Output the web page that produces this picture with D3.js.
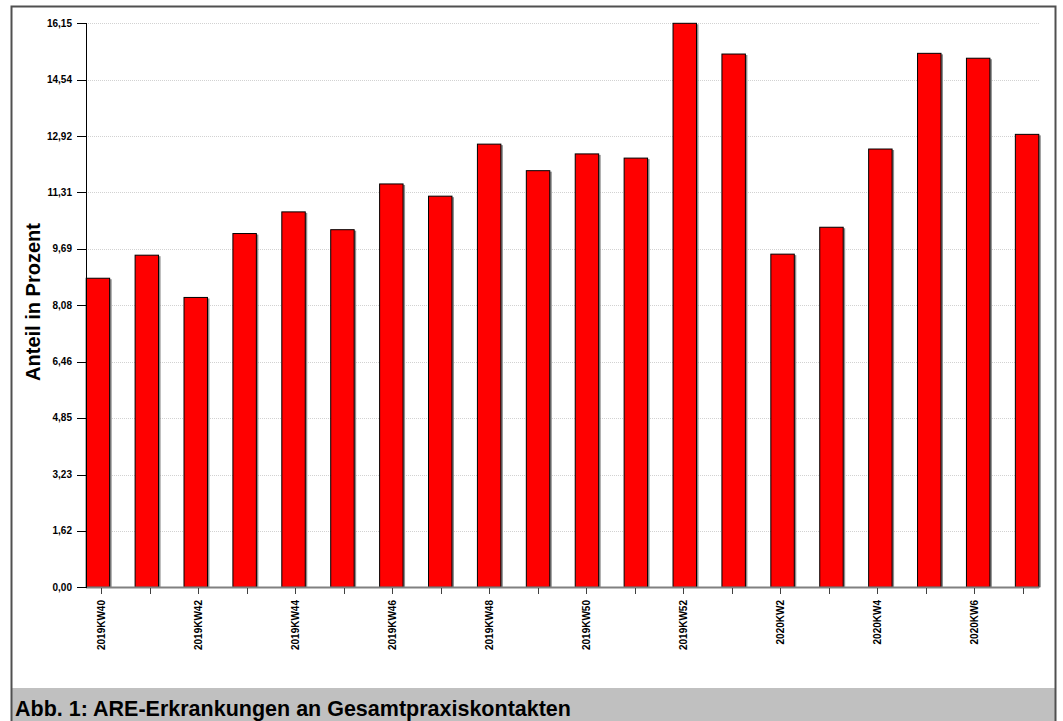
<html>
  <head>
    <style>
      body { margin: 0; background: #fff; }
      text { font-family: "Liberation Sans", Arial, sans-serif; font-weight: bold; fill: #000; }
    </style>
  </head>
  <body>
  <div id="chart"></div>
  <script src="https://d3js.org/d3.v7.js"></script>
  <script>
    // weeks shown on the x axis
    var weeks = ["2019KW40", "2019KW41", "2019KW42", "2019KW43", "2019KW44", "2019KW45", "2019KW46",
                 "2019KW47", "2019KW48", "2019KW49", "2019KW50", "2019KW51", "2019KW52",
                 "2020KW1", "2020KW2", "2020KW3", "2020KW4", "2020KW5", "2020KW6", "2020KW7"]
    // share of ARE in all practice contacts (percent)
    var shares = [8.85, 9.51, 8.30, 10.13, 10.75, 10.24, 11.55, 11.20, 12.69, 11.93,
                  12.41, 12.29, 16.15, 15.27, 9.54, 10.31, 12.55, 15.29, 15.15, 12.97]
    // only every second week gets a label
    var labelledWeeks = ["2019KW40", "2019KW42", "2019KW44", "2019KW46", "2019KW48", "2019KW50",
                         "2019KW52", "2020KW2", "2020KW4", "2020KW6"]
    var yTickLabels = ["0,00", "1,62", "3,23", "4,85", "6,46", "8,08", "9,69", "11,31", "12,92", "14,54", "16,15"]
    var yTitle = "Anteil in Prozent"
    var caption = "Abb. 1: ARE-Erkrankungen an Gesamtpraxiskontakten"

    var width = 1063, height = 721

    var svg = d3.select("#chart").append("svg")
      .attr("width", width)
      .attr("height", height)

    // caption band and frame
    svg.append("rect")
      .attr("x", 12).attr("y", 688).attr("width", 1043).attr("height", 40)
      .attr("fill", "#c0c0c0")
    svg.append("rect")
      .attr("x", 11.5).attr("y", 6.5).attr("width", 1044).attr("height", 730)
      .attr("fill", "none").attr("stroke", "#505050").attr("stroke-width", 2)

    var yVals = yTickLabels.map(s => +s.replace(",", "."))
    var y = d3.scaleLinear()
      .domain([0, d3.max(yVals)])
      .range([587.3, 23.3])

    var x = d3.scaleBand()
      .domain(weeks)
      .range([85.7, 1039.3])
      .paddingInner(0.5)
      .paddingOuter(0)

    // the tick marks sit slightly off the bar centres in the original
    var xt = d3.scalePoint()
      .domain(weeks)
      .range([101.3, 1023])

    // dotted grid lines
    svg.append("g")
      .selectAll("line")
      .data(yVals.slice(1))
      .enter()
      .append("line")
        .attr("x1", 86).attr("x2", 1039)
        .attr("y1", d => Math.round(y(d)) + 0.5)
        .attr("y2", d => Math.round(y(d)) + 0.5)
        .attr("stroke", "#d2d2d2")
        .attr("stroke-dasharray", "1,1")

    // bars (grey shadow on the right, then red bar with black outline)
    var bars = svg.append("g")
    bars.selectAll(".shadow")
      .data(weeks)
      .enter()
      .append("rect")
        .attr("class", "shadow")
        .attr("x", d => x(d) + 1.5)
        .attr("y", (d, i) => y(shares[i]) + 1)
        .attr("width", x.bandwidth())
        .attr("height", (d, i) => y(0) - y(shares[i]) - 1)
        .attr("fill", "#8c8c8c")
    bars.selectAll(".bar")
      .data(weeks)
      .enter()
      .append("rect")
        .attr("class", "bar")
        .attr("x", d => x(d) + 0.5)
        .attr("y", (d, i) => y(shares[i]))
        .attr("width", x.bandwidth() - 1)
        .attr("height", (d, i) => y(0) - y(shares[i]))
        .attr("fill", "#ff0000")
        .attr("stroke", "#000")
        .attr("stroke-width", 1)

    // x axis baseline and ticks
    svg.append("line")
      .attr("x1", 86).attr("x2", 1039)
      .attr("y1", 587.5).attr("y2", 587.5)
      .attr("stroke", "#808080").attr("stroke-width", 2)
    var xAxis = svg.append("g")
    xAxis.selectAll("line")
      .data(weeks)
      .enter()
      .append("line")
        .attr("x1", d => Math.round(xt(d)) + 0.5)
        .attr("x2", d => Math.round(xt(d)) + 0.5)
        .attr("y1", 588).attr("y2", 594)
        .attr("stroke", "#404040")
    xAxis.selectAll("text")
      .data(weeks.filter(d => labelledWeeks.includes(d)))
      .enter()
      .append("text")
        .attr("transform", d => "translate(" + xt(d) + ",600) rotate(-90)")
        .attr("text-anchor", "end")
        .attr("dy", "0.35em")
        .style("font-size", "10px")
        .text(d => d)

    // y axis
    svg.append("line")
      .attr("x1", 86.5).attr("x2", 86.5)
      .attr("y1", 23).attr("y2", 588)
      .attr("stroke", "#000")
    var yAxis = svg.append("g")
    yAxis.selectAll("line")
      .data(yVals)
      .enter()
      .append("line")
        .attr("x1", 77).attr("x2", 86)
        .attr("y1", d => Math.round(y(d)) + 0.5)
        .attr("y2", d => Math.round(y(d)) + 0.5)
        .attr("stroke", "#000")
    yAxis.selectAll("text")
      .data(yTickLabels)
      .enter()
      .append("text")
        .attr("x", 72)
        .attr("y", (d, i) => y(yVals[i]))
        .attr("dy", "0.35em")
        .attr("text-anchor", "end")
        .style("font-size", "10px")
        .text(d => d)

    svg.append("text")
      .attr("transform", "translate(39.5,302) rotate(-90)")
      .attr("text-anchor", "middle")
      .style("font-size", "20px")
      .text(yTitle)

    svg.append("text")
      .attr("x", 15).attr("y", 716)
      .style("font-size", "21.5px")
      .text(caption)
  </script>
  </body>
</html>
